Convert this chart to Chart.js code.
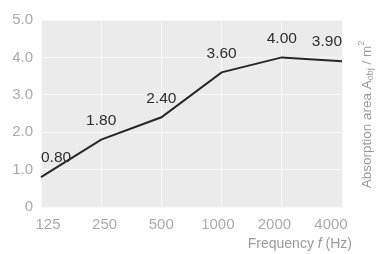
<!DOCTYPE html>
<html><head><meta charset="utf-8">
<script src="https://cdn.jsdelivr.net/npm/chart.js@4/dist/chart.umd.min.js"></script>
<style>html,body{margin:0;padding:0;background:#fff}#w{width:378px;height:254px}</style>
</head><body><div id="w"><canvas id="c"></canvas></div>
<script>
const categories = ['125','250','500','1000','2000','4000'];
const absorption = [0.80, 1.80, 2.40, 3.60, 4.00, 3.90];
const valueLabels = ['0.80','1.80','2.40','3.60','4.00','3.90'];
const yTicks = [0,1,2,3,4,5];
const yTitleMain = 'Absorption area A';
const yTitleSub = 'obj';
const yTitleTail = ' / m';
const xTitleParts = ['Frequency ', 'f', ' (Hz)'];

const FONT = '"Liberation Sans", Arial, sans-serif';

const bgPlugin = {
  id: 'bg',
  beforeDraw(chart) {
    const {ctx, chartArea: a} = chart;
    ctx.save();
    ctx.fillStyle = '#ebebeb';
    ctx.fillRect(a.left, a.top, a.right - a.left, a.bottom - a.top);
    ctx.restore();
  }
};

const labelPlugin = {
  id: 'vlabels',
  afterDatasetsDraw(chart) {
    const {ctx} = chart;
    const meta = chart.getDatasetMeta(0);
    ctx.save();
    ctx.font = '15.5px ' + FONT;
    ctx.fillStyle = '#2e2e2e';
    ctx.textBaseline = 'middle';
    meta.data.forEach((pt, i) => {
      const n = meta.data.length;
      ctx.textAlign = i === 0 ? 'left' : (i === n - 1 ? 'right' : 'center');
      ctx.fillText(valueLabels[i], pt.x, pt.y - 19);
    });
    ctx.restore();
  }
};

const titlePlugin = {
  id: 'titles',
  afterDraw(chart) {
    const {ctx, chartArea: a} = chart;
    ctx.save();
    ctx.fillStyle = '#9a9a9a';
    ctx.textBaseline = 'middle';
    const fN = '14px ' + FONT, fI = 'italic 14px ' + FONT;
    ctx.font = fN; const w0 = ctx.measureText(xTitleParts[0]).width;
    ctx.font = fI; const w1 = ctx.measureText(xTitleParts[1]).width;
    ctx.font = fN; const w2 = ctx.measureText(xTitleParts[2]).width;
    let x = 352 - (w0 + w1 + w2);
    const y = 244;
    ctx.textAlign = 'left';
    ctx.font = fN; ctx.fillText(xTitleParts[0], x, y); x += w0;
    ctx.font = fI; ctx.fillText(xTitleParts[1], x, y); x += w1;
    ctx.font = fN; ctx.fillText(xTitleParts[2], x, y);
    ctx.translate(367, (a.top + a.bottom) / 2 + 1);
    ctx.rotate(-Math.PI / 2);
    const fM = '13.5px ' + FONT, fS = '9px ' + FONT;
    ctx.font = fM; const m1 = ctx.measureText(yTitleMain).width;
    ctx.font = fS; const m2 = ctx.measureText(yTitleSub).width;
    ctx.font = fM; const m3 = ctx.measureText(yTitleTail).width;
    const m4 = 5;
    let tx = -(m1 + m2 + m3 + m4) / 2;
    ctx.font = fM; ctx.fillText(yTitleMain, tx, 0); tx += m1;
    ctx.font = fS; ctx.fillText(yTitleSub, tx, 4); tx += m2;
    ctx.font = fM; ctx.fillText(yTitleTail, tx, 0); tx += m3;
    ctx.font = fS; ctx.fillText('2', tx, -5);
    ctx.restore();
  }
};

new Chart(document.getElementById('c'), {
  type: 'line',
  data: {
    labels: categories,
    datasets: [{
      data: absorption,
      borderColor: '#262626',
      borderWidth: 2,
      pointRadius: 0,
      tension: 0,
      fill: false
    }]
  },
  options: {
    responsive: true,
    maintainAspectRatio: false,
    animation: false,
    devicePixelRatio: 1,
    layout: {padding: {top: 20, right: 36, bottom: 0, left: 0}},
    plugins: {legend: {display: false}, tooltip: {enabled: false}},
    scales: {
      x: {
        offset: false,
        border: {display: false},
        grid: {color: '#f8f8f8', lineWidth: 1, drawTicks: false},
        ticks: {display: false},
        afterFit(s) { s.height = 0; }
      },
      xl: {
        type: 'linear',
        position: 'bottom',
        min: -0.124, max: 5.194,
        border: {display: false},
        grid: {display: false, drawTicks: false},
        afterBuildTicks(s) { s.ticks = categories.map((c, i) => ({value: i})); },
        ticks: {
          color: '#aaaaaa', font: {family: FONT, size: 15}, padding: 9, maxRotation: 0, autoSkip: false,
          callback: (v) => categories[v]
        },
        afterFit(s) { s.height = 47; }
      },
      y: {
        min: 0, max: 5,
        border: {display: false},
        grid: {color: '#f8f8f8', lineWidth: 1, drawTicks: false},
        afterBuildTicks(s) { s.ticks = yTicks.map(v => ({value: v})); },
        ticks: {
          color: '#aaaaaa', font: {family: FONT, size: 15}, padding: 8,
          callback: v => v === 0 ? '0' : Number(v).toFixed(1)
        },
        afterFit(s) { s.width = 41; }
      }
    }
  },
  plugins: [bgPlugin, labelPlugin, titlePlugin]
});
</script>
</body></html>
